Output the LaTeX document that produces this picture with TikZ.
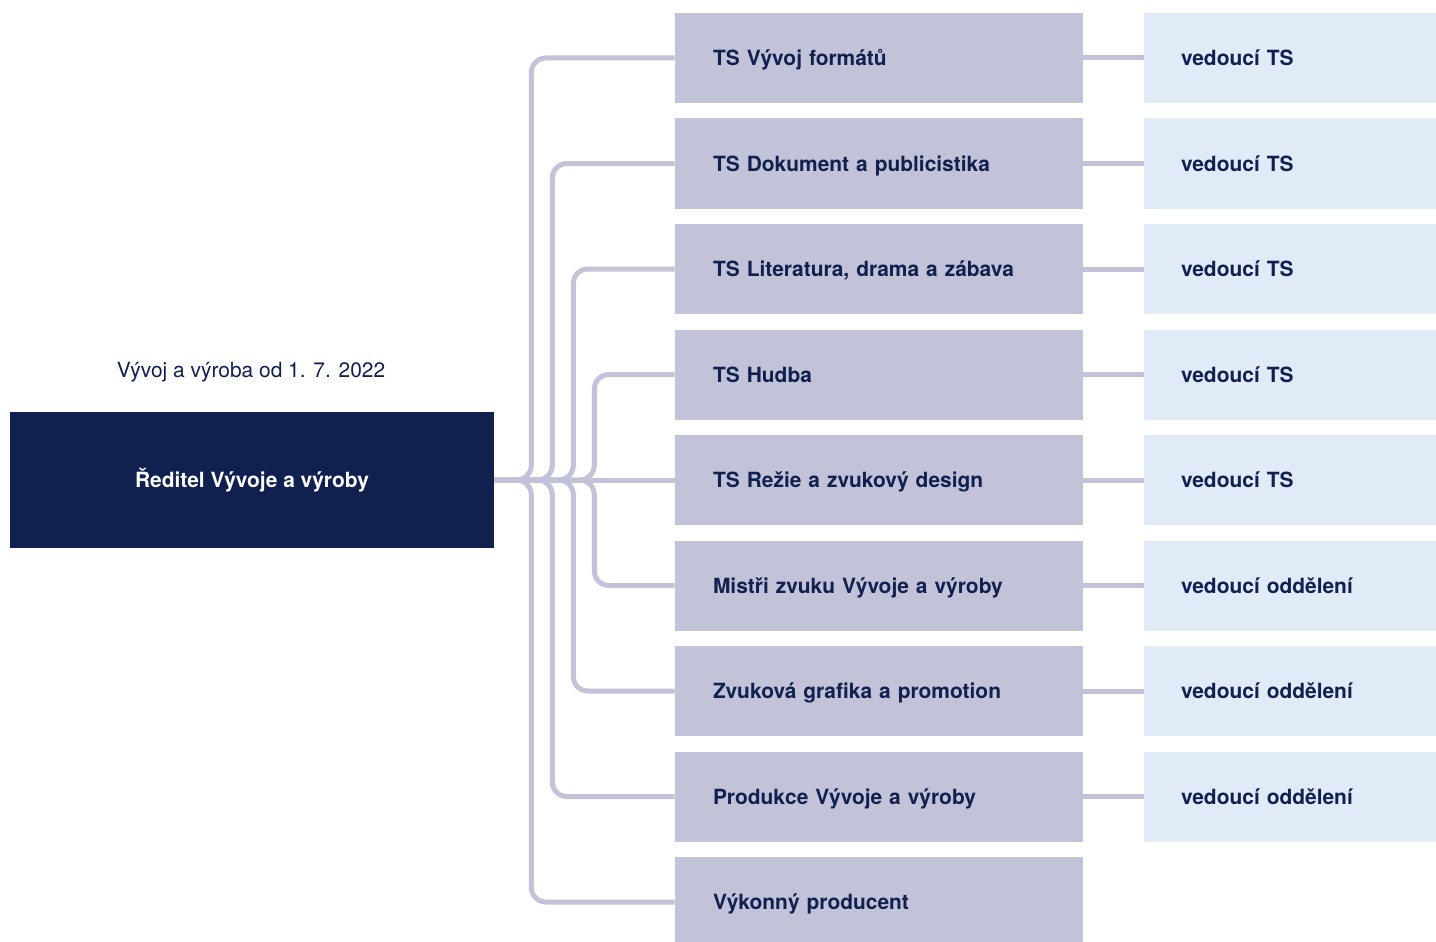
\documentclass[tikz,border=0pt]{standalone}
\usepackage{fontspec}
\setmainfont{TeX Gyre Heros}
\usetikzlibrary{positioning}

\definecolor{navy}{RGB}{16,32,79}
\definecolor{lilac}{RGB}{194,195,216}
\definecolor{paleblue}{RGB}{225,234,247}

\tikzset{
  rootbox/.style={fill=navy, text=white, minimum width=363pt, minimum height=102pt, inner sep=0pt, text height=12pt, text depth=0.7pt, font=\fontsize{15.7}{18}\selectfont\bfseries},
  unitbox/.style={fill=lilac, text=navy, minimum width=306pt, minimum height=67.5pt, inner xsep=28.5pt, inner ysep=0pt, text width=249pt, text height=12pt, text depth=0.7pt, align=left, font=\fontsize{15.7}{18}\selectfont\bfseries},
  headbox/.style={fill=paleblue, text=navy, minimum width=219pt, minimum height=67.5pt, inner xsep=27.75pt, inner ysep=0pt, text width=163.5pt, text height=12pt, text depth=0.7pt, align=left, font=\fontsize{15.7}{18}\selectfont\bfseries},
  link/.style={draw=lilac, line width=3.75pt, rounded corners=11pt}
}

\begin{document}
\begin{tikzpicture}[x=0.75pt,y=0.75pt,yscale=-1,xscale=1]
  \useasboundingbox (0,0) rectangle (1436,942);

  % Title
  \node (title) [text=navy, text height=12pt, text depth=0.7pt, font=\fontsize{15.7}{18}\selectfont] at (251,370) {Vývoj a výroba od 1. 7. 2022};
  % Director
  \node (root) [rootbox] at (252,480) {Ředitel Vývoje a výroby};

  % Units
  \node (u1) [unitbox] at (879,58) {TS Vývoj formátů};
  \node (u2) [unitbox] at (879,163.5) {TS Dokument a publicistika};
  \node (u3) [unitbox] at (879,269) {TS Literatura, drama a zábava};
  \node (u4) [unitbox] at (879,374.5) {TS Hudba};
  \node (u5) [unitbox] at (879,480) {TS Režie a zvukový design};
  \node (u6) [unitbox] at (879,585.5) {Mistři zvuku Vývoje a výroby};
  \node (u7) [unitbox] at (879,691) {Zvuková grafika a promotion};
  \node (u8) [unitbox] at (879,796.5) {Produkce Vývoje a výroby};
  \node (u9) [unitbox] at (879,902) {Výkonný producent};

  % Heads
  \node (h1) [headbox] at (1290,58) {vedoucí TS};
  \node (h2) [headbox] at (1290,163.5) {vedoucí TS};
  \node (h3) [headbox] at (1290,269) {vedoucí TS};
  \node (h4) [headbox] at (1290,374.5) {vedoucí TS};
  \node (h5) [headbox] at (1290,480) {vedoucí TS};
  \node (h6) [headbox] at (1290,585.5) {vedoucí oddělení};
  \node (h7) [headbox] at (1290,691) {vedoucí oddělení};
  \node (h8) [headbox] at (1290,796.5) {vedoucí oddělení};

  % Director to units
  \draw [link] (root.east) -- ++(37,0) |- (u1.west);
  \draw [link] (root.east) -- ++(37,0) |- (u9.west);
  \draw [link] (root.east) -- ++(58,0) |- (u2.west);
  \draw [link] (root.east) -- ++(58,0) |- (u8.west);
  \draw [link] (root.east) -- ++(79,0) |- (u3.west);
  \draw [link] (root.east) -- ++(79,0) |- (u7.west);
  \draw [link] (root.east) -- ++(100,0) |- (u4.west);
  \draw [link] (root.east) -- ++(100,0) |- (u6.west);
  \draw [link] (root.east) -- (u5.west);

  % Units to heads
  \draw [link] (u1.east) -- (h1.west);
  \draw [link] (u2.east) -- (h2.west);
  \draw [link] (u3.east) -- (h3.west);
  \draw [link] (u4.east) -- (h4.west);
  \draw [link] (u5.east) -- (h5.west);
  \draw [link] (u6.east) -- (h6.west);
  \draw [link] (u7.east) -- (h7.west);
  \draw [link] (u8.east) -- (h8.west);
\end{tikzpicture}
\end{document}
